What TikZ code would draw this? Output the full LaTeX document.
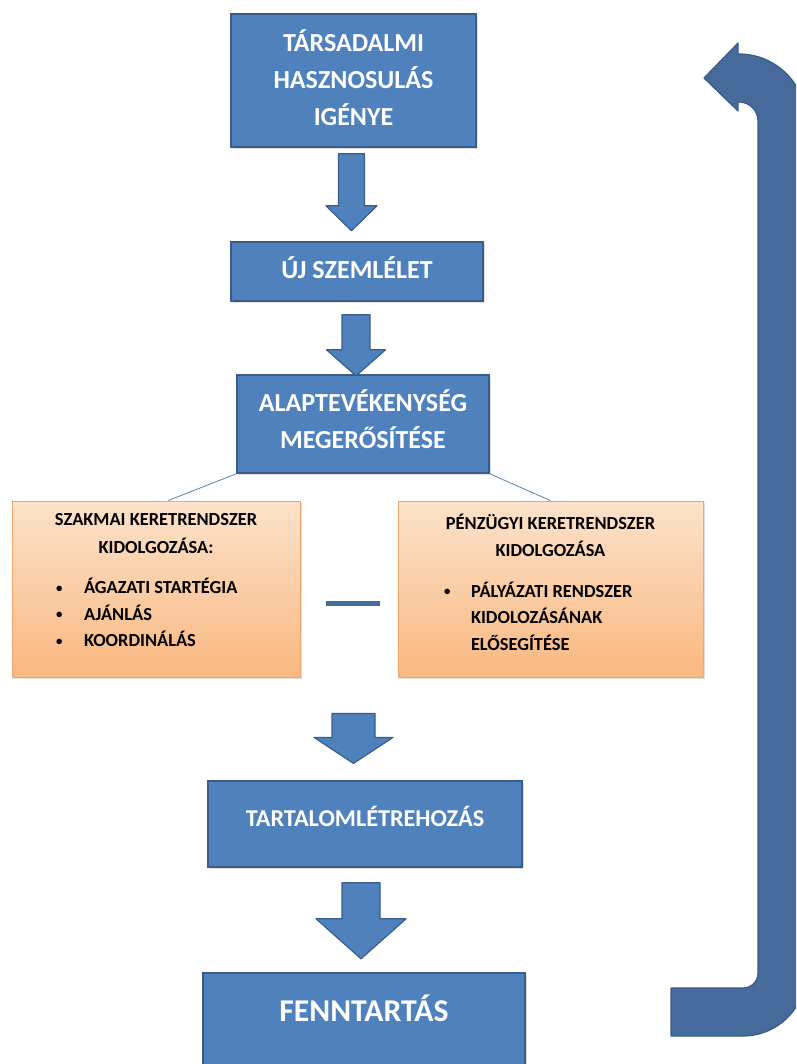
\documentclass[tikz,border=0pt]{standalone}
\usepackage{fontspec}
\usepackage{graphicx}
\setmainfont{Carlito}
\usetikzlibrary{calc, shadows}
\definecolor{boxblue}{HTML}{4F81BD}
\definecolor{boxline}{HTML}{385D8A}
\definecolor{loopblue}{HTML}{466A9C}
\definecolor{loopline}{HTML}{3A5B87}
\definecolor{peachtop}{HTML}{FCE2CB}
\definecolor{peachbot}{HTML}{F9B880}
\definecolor{peachline}{HTML}{F2A66A}
\tikzstyle{bluebox} = [rectangle, draw=boxline, line width=1.6pt, fill=boxblue,
    drop shadow={opacity=0.25, shadow xshift=1.5pt, shadow yshift=-2pt}]
\tikzstyle{bluetext} = [text=white, font=\bfseries\fontsize{26}{37}\selectfont,
    align=center, inner sep=0pt]
\tikzstyle{peachbox} = [rectangle, draw=peachline, line width=0.8pt,
    top color=peachtop, bottom color=peachbot,
    drop shadow={opacity=0.25, shadow xshift=1.5pt, shadow yshift=-2pt}]
\tikzstyle{peachtext} = [text=black, font=\bfseries\fontsize{18.4}{26.5}\selectfont,
    inner sep=0pt]
\tikzstyle{blockarrow} = [draw=boxline, line width=1.2pt, fill=boxblue, line join=round]
\tikzstyle{loop} = [draw=loopline, line width=1.2pt, fill=loopblue, line join=round]
\tikzstyle{link} = [draw=boxblue!80!gray, line width=0.8pt]
\tikzset{pics/blockdown/.style n args={4}{code={
    \path[blockarrow] (-#1,0) -- (#1,0) -- (#1,#3) -- (#2,#3) -- (0,#4)
        -- (-#2,#3) -- (-#1,#3) -- cycle;}}}
\newcommand{\bul}[2]{\makebox[#1][l]{\raisebox{1.5pt}{\scalebox{0.7}{\textbullet}}}#2}
\newcommand{\szakmaitext}{\parbox{288pt}{%
    \centering SZAKMAI KERETRENDSZER\\[1pt]KIDOLGOZÁSA:\par\vspace{14pt}
    \raggedright\leftskip=44pt
    \bul{28pt}{ÁGAZATI STARTÉGIA}\\\bul{28pt}{AJÁNLÁS}\\
    \bul{28pt}{KOORDINÁLÁS}\par}}
\newcommand{\penztext}{\parbox{305pt}{%
    \centering PÉNZÜGYI KERETRENDSZER\\[1pt]KIDOLGOZÁSA\par\vspace{14pt}
    \raggedright\leftskip=46pt
    \bul{27pt}{PÁLYÁZATI RENDSZER}\\\hspace*{27pt}KIDOLOZÁSÁNAK\\
    \hspace*{27pt}ELŐSEGÍTÉSE\par}}

\begin{document}
\begin{tikzpicture}[x=1pt, y=-1pt]
    \useasboundingbox (0,0) rectangle (796,1064);
    \clip (0,0) rectangle (796,1064);
    \fill[white] (0,0) rectangle (796,1064);

    \node (tars) [bluebox, minimum width=245pt, minimum height=133pt,
        label={[bluetext, yshift=3pt]center:{TÁRSADALMI\\HASZNOSULÁS\\IGÉNYE}}]
        at (353.5,80.5) {};
    \node (uj) [bluebox, minimum width=252pt, minimum height=59pt,
        label={[bluetext, yshift=4pt]center:ÚJ SZEMLÉLET}] at (357,271.5) {};
    \node (alap) [bluebox, minimum width=252pt, minimum height=98pt,
        label={[bluetext, yshift=5pt]center:{ALAPTEVÉKENYSÉG\\MEGERŐSÍTÉSE}}]
        at (363,424) {};

    \node (szakmai) [peachbox, minimum width=288pt, minimum height=176pt,
        label={[peachtext, anchor=north, yshift=-13pt]north:\szakmaitext}]
        at (156,589) {};
    \node (penz) [peachbox, minimum width=305pt, minimum height=176pt,
        label={[peachtext, anchor=north, yshift=-13pt]north:\penztext}]
        at (550.5,589) {};

    \node (tartalom) [bluebox, minimum width=314pt, minimum height=86pt,
        label={[bluetext, font=\bfseries\fontsize{24.2}{30}\selectfont, yshift=8pt]center:TARTALOMLÉTREHOZÁS}]
        at (365,824) {};
    \node (fenn) [bluebox, minimum width=322pt, minimum height=95pt,
        label={[bluetext, font=\bfseries\fontsize{31.7}{38}\selectfont, yshift=12.5pt]center:FENNTARTÁS}]
        at (364,1020.5) {};

    % block arrows between the boxes
    \pic (arrowa) at ($(tars.south)+(-2,6)$) {blockdown={13}{25.5}{52}{77}};
    \pic (arrowb) at ($(uj.south)+(-1,13)$) {blockdown={14}{29.5}{35}{61}};
    \pic (arrowc) at ($(szakmai.south east)!0.5!(penz.south west)+(4.5,36)$)
        {blockdown={21.5}{39.5}{24}{50}};
    \pic (arrowd) at ($(tartalom.south)+(-4,15)$) {blockdown={19}{45}{36}{76}};

    \draw[link] (alap.south west) -- ([xshift=12pt]szakmai.north);
    \draw[link] (alap.south east) -- (penz.north);
    \draw[loopblue, line width=5pt] ($(szakmai.east)!0.26!(penz.west)+(0,14)$)
        -- ($(szakmai.east)!0.82!(penz.west)+(0,14)$);

    % feedback arrow on the right
    \path[loop] (704,78) -- (738,43) -- (738,54) -- (739,54)
        arc[start angle=-90, end angle=0, radius=67] -- (806,973)
        arc[start angle=0, end angle=90, radius=63] -- (671,1036) -- (671,988)
        -- (743,988) arc[start angle=90, end angle=0, radius=15] -- (758,121)
        arc[start angle=0, end angle=-90, radius=19] -- (738,102) -- (738,111)
        -- cycle;
\end{tikzpicture}
\end{document}
